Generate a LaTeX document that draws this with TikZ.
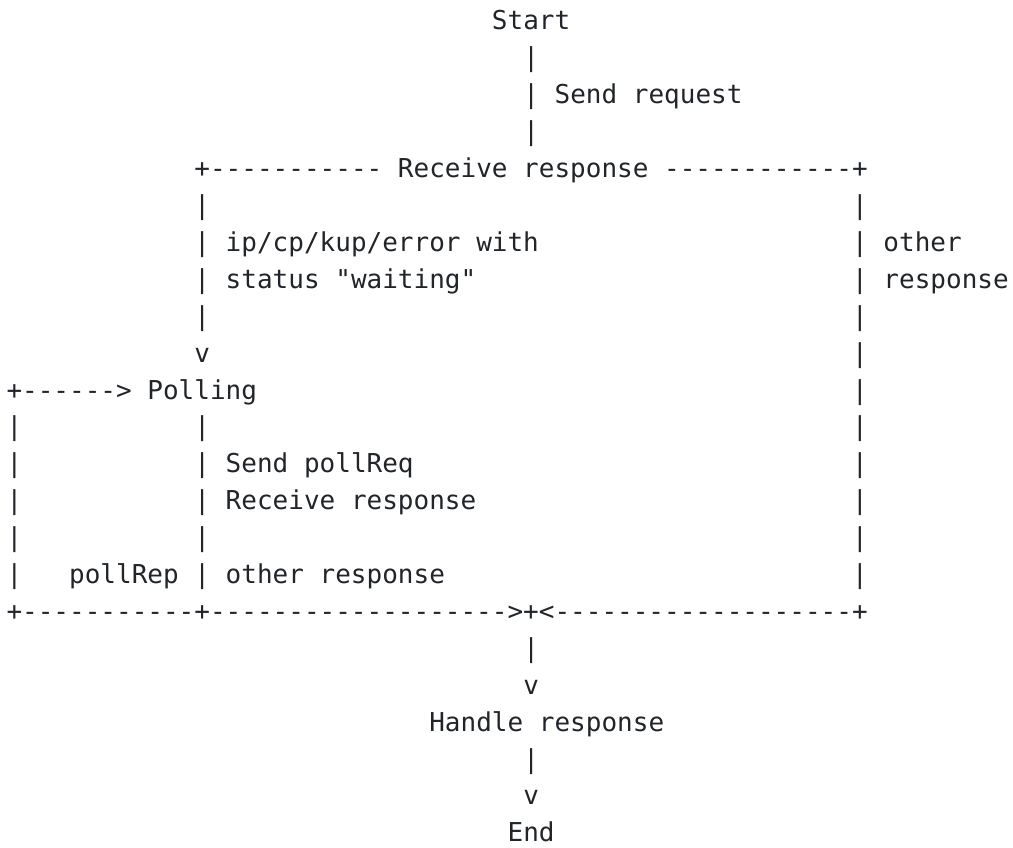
\documentclass[tikz,border=0pt]{standalone}
\usepackage{fontspec}
\setmonofont{DejaVu Sans Mono}
\definecolor{txt}{RGB}{33,37,41}
\tikzset{asc/.style={inner sep=0pt, outer sep=0pt, anchor=base west, text=txt,
  font=\ttfamily\fontsize{26.01pt}{30pt}\selectfont}}
\newcommand\asc[4]{\node[asc] (#1) at ({6.5pt+#3*15.66pt},{-30pt-#2*36.9pt}) {#4};}
\begin{document}
\begin{tikzpicture}
\useasboundingbox (0,0) rectangle (1013pt,-848pt);
\asc{start}{0}{31}{Start}
\asc{a1}{1}{33}{|}
\asc{a2}{2}{33}{| Send request}
\asc{a3}{3}{33}{|}
\asc{recv}{4}{12}{+----------- Receive response ------------+}
\asc{b5}{5}{12}{|}
\asc{c5}{5}{54}{|}
\asc{b6}{6}{12}{| ip/cp/kup/error with}
\asc{c6}{6}{54}{| other}
\asc{b7}{7}{12}{| status "waiting"}
\asc{c7}{7}{54}{| response}
\asc{b8}{8}{12}{|}
\asc{c8}{8}{54}{|}
\asc{b9}{9}{12}{v}
\asc{c9}{9}{54}{|}
\asc{poll}{10}{0}{+------> Polling}
\asc{c10}{10}{54}{|}
\asc{d11}{11}{0}{|}
\asc{b11}{11}{12}{|}
\asc{c11}{11}{54}{|}
\asc{d12}{12}{0}{|}
\asc{b12}{12}{12}{| Send pollReq}
\asc{c12}{12}{54}{|}
\asc{d13}{13}{0}{|}
\asc{b13}{13}{12}{| Receive response}
\asc{c13}{13}{54}{|}
\asc{d14}{14}{0}{|}
\asc{b14}{14}{12}{|}
\asc{c14}{14}{54}{|}
\asc{d15}{15}{0}{|}
\asc{b15}{15}{4}{pollRep | other response}
\asc{c15}{15}{54}{|}
\asc{bottom}{16}{0}{+-----------+------------------->+<-------------------+}
\asc{e17}{17}{33}{|}
\asc{e18}{18}{33}{v}
\asc{handle}{19}{27}{Handle response}
\asc{e20}{20}{33}{|}
\asc{e21}{21}{33}{v}
\asc{end}{22}{32}{End}
\end{tikzpicture}
\end{document}
